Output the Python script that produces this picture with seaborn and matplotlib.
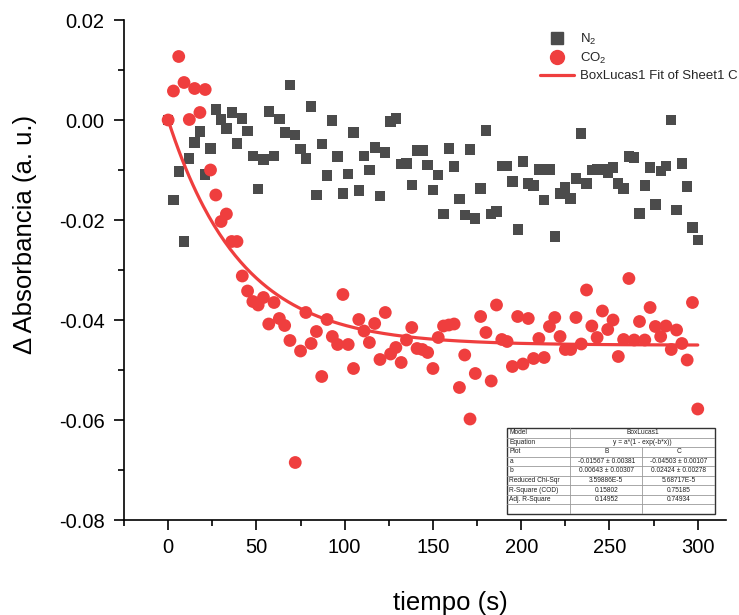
import numpy as np
import pandas as pd
import matplotlib
matplotlib.use("Agg")
import matplotlib.pyplot as plt
from matplotlib.lines import Line2D
from matplotlib.ticker import MultipleLocator, FormatStrFormatter
import seaborn as sns

# ---------------- data ----------------
tiempo = list(range(0, 301, 3))

n2 = [0.0, -0.0160, -0.0103, -0.0243, -0.0077, -0.0045, -0.0023, -0.0109, -0.0057, 0.0021,
      0.0001, -0.0017, 0.0015, -0.0047, 0.0003, -0.0022, -0.0072, -0.0138, -0.0079, 0.0017,
      -0.0072, 0.0002, -0.0025, 0.0070, -0.0030, -0.0058, -0.0077, 0.0027, -0.0150, -0.0048,
      -0.0111, -0.0001, -0.0073, -0.0147, -0.0108, -0.0025, -0.0141, -0.0072, -0.0100, -0.0055,
      -0.0152, -0.0065, -0.0003, 0.0003, -0.0088, -0.0087, -0.0130, -0.0061, -0.0061, -0.0090,
      -0.0140, -0.0110, -0.0188, -0.0057, -0.0093, -0.0158, -0.0190, -0.0059, -0.0197, -0.0137,
      -0.0021, -0.0188, -0.0183, -0.0092, -0.0092, -0.0123, -0.0219, -0.0083, -0.0127, -0.0131,
      -0.0099, -0.0160, -0.0099, -0.0233, -0.0147, -0.0135, -0.0157, -0.0117, -0.0027, -0.0127,
      -0.0100, -0.0099, -0.0099, -0.0105, -0.0095, -0.0127, -0.0137, -0.0073, -0.0075, -0.0187,
      -0.0131, -0.0095, -0.0169, -0.0102, -0.0092, 0.0000, -0.0180, -0.0087, -0.0133, -0.0215,
      -0.0240]

co2 = [0.0, 0.0058, 0.0127, 0.0075, 0.0001, 0.0063, 0.0015, 0.0061, -0.0100, -0.0150,
       -0.0203, -0.0188, -0.0243, -0.0243, -0.0312, -0.0342, -0.0363, -0.0370, -0.0355, -0.0408,
       -0.0365, -0.0397, -0.0411, -0.0441, -0.0685, -0.0462, -0.0385, -0.0447, -0.0423, -0.0513,
       -0.0399, -0.0433, -0.0449, -0.0349, -0.0449, -0.0497, -0.0399, -0.0422, -0.0445, -0.0407,
       -0.0479, -0.0385, -0.0468, -0.0455, -0.0485, -0.0440, -0.0415, -0.0457, -0.0459, -0.0465,
       -0.0497, -0.0435, -0.0412, -0.0410, -0.0408, -0.0535, -0.0470, -0.0598, -0.0507, -0.0393,
       -0.0425, -0.0522, -0.0370, -0.0439, -0.0443, -0.0493, -0.0393, -0.0488, -0.0397, -0.0477,
       -0.0437, -0.0475, -0.0413, -0.0395, -0.0433, -0.0459, -0.0459, -0.0395, -0.0448, -0.0340,
       -0.0412, -0.0435, -0.0382, -0.0419, -0.0400, -0.0473, -0.0439, -0.0317, -0.0440, -0.0403,
       -0.0440, -0.0375, -0.0413, -0.0433, -0.0412, -0.0459, -0.0420, -0.0447, -0.0480, -0.0365,
       -0.0578]

# BoxLucas1 fit parameters for CO2 (from the fit table)
fit_a = -0.04503
fit_b = 0.02424

xticks = [0, 50, 100, 150, 200, 250, 300]
yticks = [-0.08, -0.06, -0.04, -0.02, 0.00, 0.02]

legend_labels = ["N$_2$", "CO$_2$", "BoxLucas1 Fit of Sheet1 C"]

table_header = ["Model", "BoxLucas1"]
table_equation = ["Equation", "y = a*(1 - exp(-b*x))"]
table_rows = [
    ["Plot", "B", "C"],
    ["a", "-0.01567 \u00b1 0.00381", "-0.04503 \u00b1 0.00107"],
    ["b", "0.00643 \u00b1 0.00307", "0.02424 \u00b1 0.00278"],
    ["Reduced Chi-Sqr", "3.59886E-5", "5.68717E-5"],
    ["R-Square (COD)", "0.15802", "0.75185"],
    ["Adj. R-Square", "0.14952", "0.74934"],
]

# ---------------- style ----------------
sns.set_theme(style="ticks")
plt.rcParams["font.family"] = ["Liberation Sans", "DejaVu Sans"]
plt.rcParams["mathtext.fontset"] = "custom"
plt.rcParams["mathtext.rm"] = "Liberation Sans"
plt.rcParams["mathtext.it"] = "Liberation Sans:italic"

RED = "#EF3E3E"
GRAY = "#4B4B4B"

fig = plt.figure(figsize=(7.39, 6.15), dpi=100)
ax = fig.add_axes([124 / 739, (615 - 520) / 615, (726 - 124) / 739, 500 / 615])

df_n2 = pd.DataFrame({"t": tiempo, "y": n2})
df_co2 = pd.DataFrame({"t": tiempo, "y": co2})
t_fit = np.linspace(0, 300, 301)
df_fit = pd.DataFrame({"t": t_fit, "y": fit_a * (1 - np.exp(-fit_b * t_fit))})

sns.scatterplot(data=df_n2, x="t", y="y", ax=ax, marker="s", s=55, color=GRAY,
                edgecolor="none", linewidth=0, zorder=2)
sns.scatterplot(data=df_co2, x="t", y="y", ax=ax, marker="o", s=85, color=RED,
                edgecolor="none", linewidth=0, zorder=3)
sns.lineplot(data=df_fit, x="t", y="y", ax=ax, color=RED, linewidth=2.3, zorder=4)

ax.set_xlim(-25, 316)
ax.set_ylim(-0.08, 0.02)
ax.set_xticks(xticks)
ax.set_yticks(yticks)
ax.xaxis.set_minor_locator(MultipleLocator(25))
ax.yaxis.set_minor_locator(MultipleLocator(0.01))
ax.yaxis.set_major_formatter(FormatStrFormatter("%.2f"))
ax.tick_params(axis="both", which="major", direction="out", length=7, width=1.2,
               labelsize=14.5, color="black", labelcolor="black")
ax.tick_params(axis="y", which="major", pad=7)
ax.tick_params(axis="x", which="major", pad=6)
ax.tick_params(axis="both", which="minor", direction="out", length=4, width=1.2, color="black")
for sp in ["top", "right"]:
    ax.spines[sp].set_visible(False)
for sp in ["left", "bottom"]:
    ax.spines[sp].set_linewidth(1.2)
    ax.spines[sp].set_color("black")

ax.set_xlabel("tiempo (s)", fontsize=18.5, color="black")
ax.set_ylabel("\u0394 Absorbancia (a. u.)", fontsize=18.5, color="black")
ax.xaxis.set_label_coords((450 - 124) / 602, (520 - 591) / 500)
ax.yaxis.set_label_coords((37 - 124) / 602, (520 - 234) / 500)

# legend
handles = [
    Line2D([], [], marker="s", linestyle="none", color=GRAY, markersize=8),
    Line2D([], [], marker="o", linestyle="none", color=RED, markersize=10),
    Line2D([], [], color=RED, linewidth=2.3),
]
leg = fig.legend(handles, legend_labels, loc="upper left",
                 bbox_to_anchor=(540 / 739, 1 - 32 / 615), frameon=False,
                 fontsize=9.5, handlelength=2.6, handletextpad=0.4, labelspacing=0.3,
                 borderaxespad=0, borderpad=0)

# fit table inset
tax = fig.add_axes([507 / 739, (615 - 514) / 615, 208 / 739, 86 / 615])
tax.set_xlim(0, 1)
tax.set_ylim(0, 9)
tax.axis("off")
c1, c2 = 0.305, 0.65
rows_all = [table_header, table_equation] + table_rows
fs = 4.8
for i, row in enumerate(rows_all):
    yc = 9 - i - 0.5
    tax.text(0.012, yc, row[0], fontsize=fs, va="center", ha="left", color="#222222")
    if len(row) == 2:
        tax.text((c1 + 1) / 2, yc, row[1], fontsize=fs, va="center", ha="center", color="#222222")
    else:
        tax.text((c1 + c2) / 2, yc, row[1], fontsize=fs, va="center", ha="center", color="#222222")
        tax.text((c2 + 1) / 2, yc, row[2], fontsize=fs, va="center", ha="center", color="#222222")
for k in range(1, 9):
    tax.plot([0, 1], [k, k], color="#9a9a9a", linewidth=0.6)
tax.plot([c1, c1], [0, 9], color="#9a9a9a", linewidth=0.6)
tax.plot([c2, c2], [0, 7], color="#9a9a9a", linewidth=0.6)
tax.add_patch(plt.Rectangle((0, 0), 1, 9, fill=False, edgecolor="#333333", linewidth=1.0,
                            clip_on=False))

fig.savefig("out.png", dpi=100)
